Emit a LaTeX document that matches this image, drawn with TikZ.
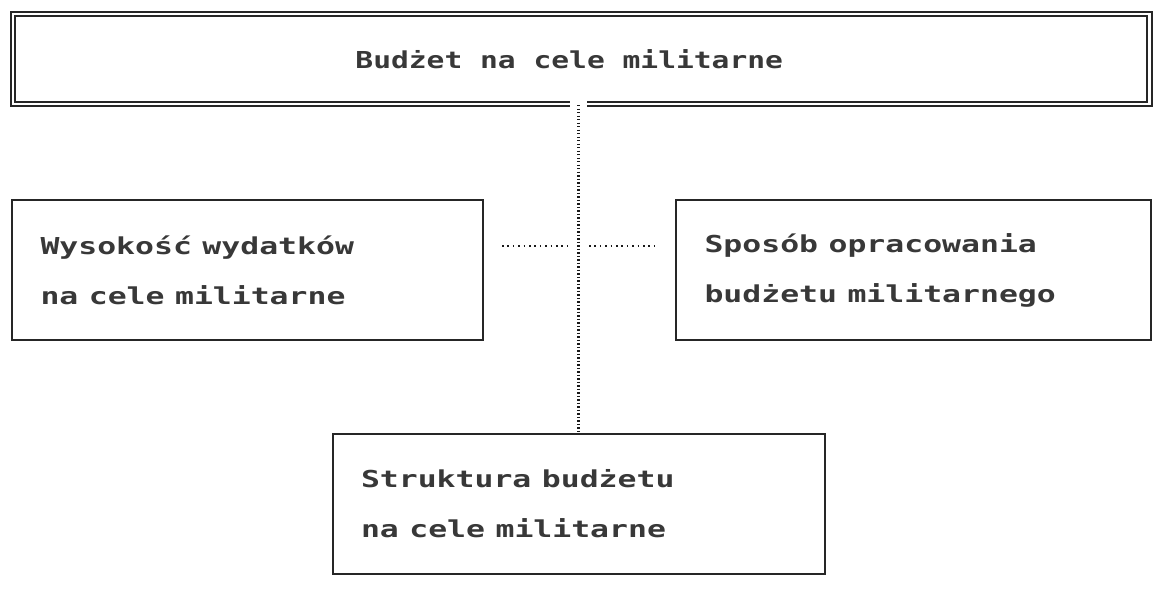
\documentclass[tikz,border=0pt]{standalone}
\usepackage{fontspec}
\usepackage{graphicx}
\newfontfamily\dotfont{DejaVu Sans Mono Bold}
\newcommand\wideline[1]{\scalebox{1.35}[1]{#1}}
\newcommand\widetop[1]{\scalebox{1.27}[1]{#1}}
\usetikzlibrary{calc}
\begin{document}
\begin{tikzpicture}[x=1pt,y=-1pt,
  txt/.style={font=\dotfont\fontsize{23.3}{50}\selectfont,text=black!78},
  box/.style={txt,draw=black!85,line width=2pt,rectangle,inner xsep=28.5pt,inner ysep=0pt,minimum height=140pt,align=left},
  topbox/.style={txt,draw=black!85,double,line width=2.2pt,double distance=2.5pt,rectangle,inner sep=0pt,minimum width=1136.5pt,minimum height=90pt},
  dotv/.style={draw=black!90,line width=2.3pt,dash pattern=on 1.4pt off 2.1pt},
  doth/.style={draw=black!90,line width=2.3pt,dash pattern=on 1.6pt off 3.8pt}]
\useasboundingbox (0,0) rectangle (1159,591);
\node[topbox] (top) at (581.25,59) {\widetop{Budżet na cele militarne}\hspace*{24pt}};
\node[box,minimum width=471pt,text width=414pt] (left) at (247.5,270) {\wideline{Wysokość wydatków}\\\wideline{na cele militarne}};
\node[box,minimum width=475pt,text width=418pt] (right) at (913.5,270) {\wideline{Sposób opracowania}\\\wideline{budżetu militarnego}};
\node[box,minimum width=492pt,text width=435pt] (bot) at (578.5,504) {\wideline{Struktura budżetu}\\\wideline{na cele militarne}};
\coordinate (gap) at (bot.north |- top.south);
\fill[white] ($(gap)+(-8.5,-6)$) rectangle ($(gap)+(8.5,6)$);
\draw[dotv] (gap) -- (bot.north);
\coordinate (hla) at (502,246);
\coordinate (hlb) at (567,246);
\coordinate (hra) at (589,246);
\coordinate (hrb) at (656,246);
\draw[doth] (hla) -- (hlb);
\draw[doth] (hra) -- (hrb);
\end{tikzpicture}
\end{document}
